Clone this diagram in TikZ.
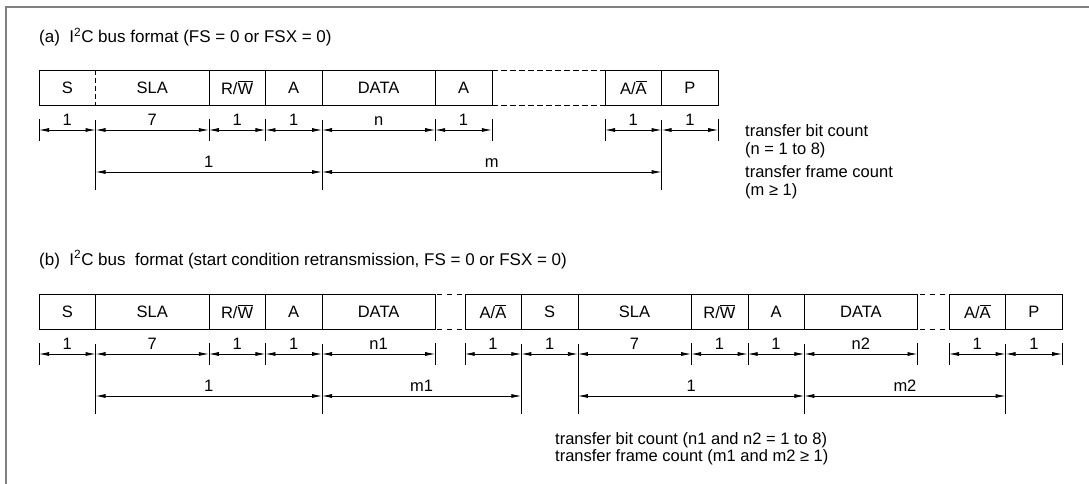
\documentclass[tikz,border=0pt]{standalone}
\usepackage{fontspec}
\setmainfont{Liberation Sans}
\usetikzlibrary{arrows.meta,positioning}

\begin{document}
\begin{tikzpicture}[x=1pt,y=-1pt,
							font=\fontsize{16.5}{18}\selectfont,
							field/.style={minimum height=35pt,minimum width=56.6pt,inner sep=0pt,outer sep=0pt},
							wide/.style={field,minimum width=113.2pt},
							dim/.style={line width=0.8pt,{Latex[length=10pt,width=4pt]}-{Latex[length=10pt,width=4pt]}},
							lab/.style={above=4pt,inner sep=0pt},
							txt/.style={anchor=base west,inner sep=0pt},
							title/.style={txt,font=\fontsize{17}{19}\selectfont},
							gapline/.style={dash pattern=on 5pt off 5pt,dash phase=8pt}]
	\useasboundingbox (0,0) rectangle (1089,484);
	\draw[gray,line width=2pt] (6,484) -- (6,7) -- (1089,7);

	% (a)
	\node[title] (ta) at (39,43) {(a)\ \ I\textsuperscript{2}C bus format (FS = 0 or FSX = 0)};
	\node[field,anchor=west] (aS) at (39,87.5) {S};
	\node[wide,right=0pt of aS]    (aSLA)  {SLA};
	\node[field,right=0pt of aSLA] (aRW)   {R/$\overline{\mbox{W}}$};
	\node[field,right=0pt of aRW]  (aA)    {A};
	\node[wide,right=0pt of aA]    (aDATA) {DATA};
	\node[field,right=0pt of aDATA](aA2)   {A};
	\node[field,right=113.2pt of aA2] (aAck) {A/$\overline{\mbox{A}}$};
	\node[field,right=0pt of aAck] (aP)    {P};

	\draw (aS.north west) rectangle (aA2.south east);
	\draw (aAck.north west) rectangle (aP.south east);
	\draw[dash pattern=on 5pt off 3pt] (aS.north east) -- (aS.south east);
	\foreach \n in {aSLA,aRW,aA,aDATA,aAck} \draw (\n.north east) -- (\n.south east);
	\draw[dash pattern=on 6pt off 3pt] (aA2.north east) -- (aAck.north west);
	\draw[dash pattern=on 6pt off 3pt] (aA2.south east) -- (aAck.south west);

	\coordinate (aDim) at (0,130);
	\coordinate (aDim2) at (0,172);
	\foreach \a in {aS.south west,aRW.south west,aA.south west,aDATA.south east,aA2.south east,aAck.south west,aP.south east}
		\draw (\a) ++(0,14) -- ++(0,22);
	\foreach \a in {aSLA.south west,aDATA.south west,aP.south west}
		\draw (\a) ++(0,15) -- ++(0,70);
	\foreach \n/\t in {aS/1,aSLA/7,aRW/1,aA/1,aDATA/n,aA2/1,aAck/1,aP/1}
		\draw[dim] (\n.west |- aDim) -- node[lab] {\t} (\n.east |- aDim);
	\draw[dim] (aSLA.west |- aDim2) -- node[lab] {1} (aDATA.west |- aDim2);
	\draw[dim] (aDATA.west |- aDim2) -- node[lab] {m} (aP.west |- aDim2);

	\node[txt] (na1) at (745,136) {transfer bit count};
	\node[txt] (na2) at (745,154) {(n = 1 to 8)};
	\node[txt] (ma1) at (745,177) {transfer frame count};
	\node[txt] (ma2) at (745,195) {(m ≥ 1)};

	% (b)
	\node[title] (tb) at (39,265) {(b)\ \ I\textsuperscript{2}C bus\ \ format (start condition retransmission, FS = 0 or FSX = 0)};
	\node[field,anchor=west] (bS) at (39,311.5) {S};
	\node[wide,right=0pt of bS]     (bSLA)   {SLA};
	\node[field,right=0pt of bSLA]  (bRW)    {R/$\overline{\mbox{W}}$};
	\node[field,right=0pt of bRW]   (bA)     {A};
	\node[wide,right=0pt of bA]     (bDATA)  {DATA};
	\node[field,right=29.5pt of bDATA] (bAck1) {A/$\overline{\mbox{A}}$};
	\node[field,right=0pt of bAck1] (bS2)    {S};
	\node[wide,right=0pt of bS2]    (bSLA2)  {SLA};
	\node[field,right=0pt of bSLA2] (bRW2)   {R/$\overline{\mbox{W}}$};
	\node[field,right=0pt of bRW2]  (bA2)    {A};
	\node[wide,right=0pt of bA2]    (bDATA2) {DATA};
	\node[field,right=31.5pt of bDATA2] (bAck2) {A/$\overline{\mbox{A}}$};
	\node[field,right=0pt of bAck2] (bP)     {P};

	\draw (bS.north west) rectangle (bDATA.south east);
	\draw (bAck1.north west) rectangle (bDATA2.south east);
	\draw (bAck2.north west) rectangle (bP.south east);
	\foreach \n in {bS,bSLA,bRW,bA,bAck1,bS2,bSLA2,bRW2,bA2,bAck2} \draw (\n.north east) -- (\n.south east);
	\draw[gapline] (bDATA.north east) -- (bAck1.north west);
	\draw[gapline] (bDATA.south east) -- (bAck1.south west);
	\draw[gapline] (bDATA2.north east) -- (bAck2.north west);
	\draw[gapline] (bDATA2.south east) -- (bAck2.south west);

	\coordinate (bDim) at (0,354);
	\coordinate (bDim2) at (0,396);
	\foreach \a in {bS.south west,bRW.south west,bA.south west,bDATA.south east,bAck1.south west,bRW2.south west,bA2.south west,bDATA2.south east,bAck2.south west,bP.south east}
		\draw (\a) ++(0,14) -- ++(0,22);
	\foreach \a in {bSLA.south west,bDATA.south west,bS2.south west,bSLA2.south west,bDATA2.south west,bP.south west}
		\draw (\a) ++(0,15) -- ++(0,70);
	\foreach \n/\t in {bS/1,bSLA/7,bRW/1,bA/1,bDATA/n1,bAck1/1,bS2/1,bSLA2/7,bRW2/1,bA2/1,bDATA2/n2,bAck2/1,bP/1}
		\draw[dim] (\n.west |- bDim) -- node[lab] {\t} (\n.east |- bDim);
	\draw[dim] (bSLA.west |- bDim2) -- node[lab] {1} (bDATA.west |- bDim2);
	\draw[dim] (bDATA.west |- bDim2) -- node[lab] {m1} (bS2.west |- bDim2);
	\draw[dim] (bSLA2.west |- bDim2) -- node[lab] {1} (bDATA2.west |- bDim2);
	\draw[dim] (bDATA2.west |- bDim2) -- node[lab] {m2} (bP.west |- bDim2);

	\node[txt] (nb) at (555,444) {transfer bit count (n1 and n2 = 1 to 8)};
	\node[txt] (mb) at (555,461) {transfer frame count (m1 and m2 ≥ 1)};
\end{tikzpicture}
\end{document}
